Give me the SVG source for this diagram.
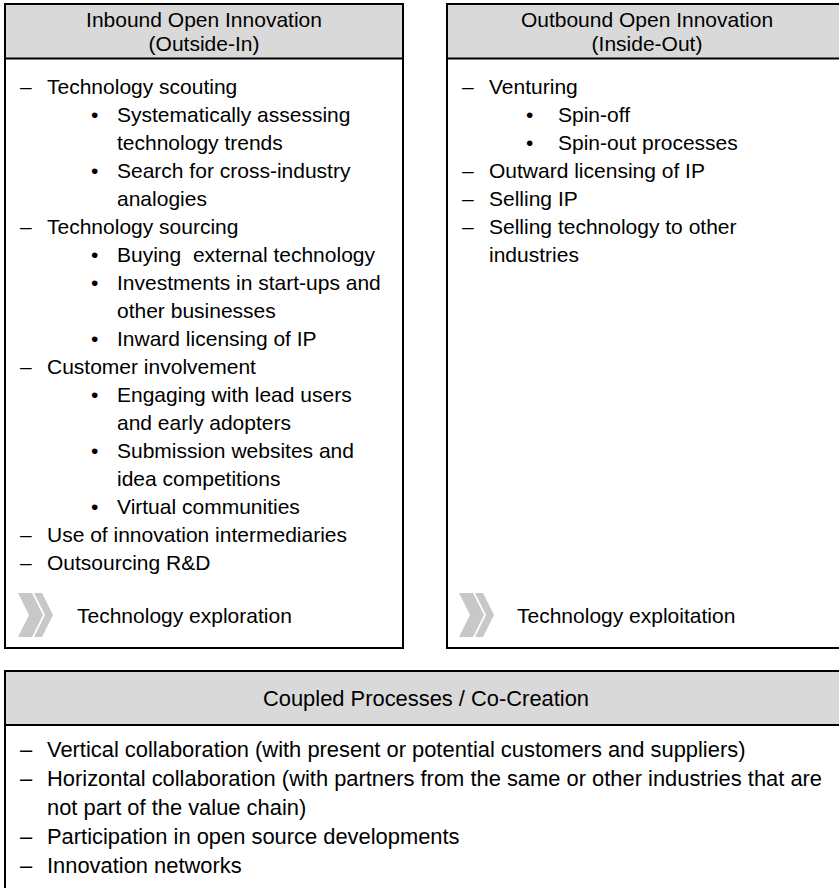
<svg xmlns="http://www.w3.org/2000/svg" width="839" height="888" viewBox="0 0 839 888">
<style>
  .box { fill: #ffffff; stroke: #000000; stroke-width: 2; }
  .hdr { fill: #d9d9d9; stroke: #000000; stroke-width: 2; }
  text { font-family: "Liberation Sans", Arial, sans-serif; font-size: 21px; fill: #000000; }
  .c { text-anchor: middle; }
  .bt { font-size: 21.9px; }
  .chev { fill: #c8c8c8; }
</style>
<defs>
  <g id="chevrons">
    <polygon class="chev" points="0,0 14,0 25,22 14,44 0,44 11,22"/>
    <polygon class="chev" points="16,0 24,0 35,22 24,44 16,44 27,22"/>
  </g>
</defs>
<rect width="839" height="888" fill="#ffffff"/>

<g id="inbound">
  <rect class="box" x="5" y="4" width="398" height="644"/>
  <rect class="hdr" x="5" y="4" width="398" height="54.5"/>
  <text class="c" x="204" y="27">Inbound Open Innovation</text>
  <text class="c" x="204" y="51">(Outside-In)</text>
  <text x="20" y="94">–</text><text x="47" y="94">Technology scouting</text>
  <text x="91" y="122">•</text><text x="117" y="122">Systematically assessing</text>
  <text x="117" y="150">technology trends</text>
  <text x="91" y="178">•</text><text x="117" y="178">Search for cross-industry</text>
  <text x="117" y="206">analogies</text>
  <text x="20" y="234">–</text><text x="47" y="234">Technology sourcing</text>
  <text x="91" y="262">•</text><text x="117" y="262" xml:space="preserve">Buying  external technology</text>
  <text x="91" y="290">•</text><text x="117" y="290">Investments in start-ups and</text>
  <text x="117" y="318">other businesses</text>
  <text x="91" y="346">•</text><text x="117" y="346">Inward licensing of IP</text>
  <text x="20" y="374">–</text><text x="47" y="374">Customer involvement</text>
  <text x="91" y="402">•</text><text x="117" y="402">Engaging with lead users</text>
  <text x="117" y="430">and early adopters</text>
  <text x="91" y="458">•</text><text x="117" y="458">Submission websites and</text>
  <text x="117" y="486">idea competitions</text>
  <text x="91" y="514">•</text><text x="117" y="514">Virtual communities</text>
  <text x="20" y="542">–</text><text x="47" y="542">Use of innovation intermediaries</text>
  <text x="20" y="570">–</text><text x="47" y="570">Outsourcing R&amp;D</text>
  <use href="#chevrons" x="18" y="593"/>
  <text x="77" y="623">Technology exploration</text>
</g>

<g id="outbound">
  <rect class="box" x="447" y="4" width="400" height="644"/>
  <rect class="hdr" x="447" y="4" width="400" height="54.5"/>
  <text class="c" x="647" y="27">Outbound Open Innovation</text>
  <text class="c" x="647" y="51">(Inside-Out)</text>
  <text x="462" y="94">–</text><text x="489" y="94">Venturing</text>
  <text x="526" y="122">•</text><text x="558" y="122">Spin-off</text>
  <text x="526" y="150">•</text><text x="558" y="150">Spin-out processes</text>
  <text x="462" y="178">–</text><text x="489" y="178">Outward licensing of IP</text>
  <text x="462" y="206">–</text><text x="489" y="206">Selling IP</text>
  <text x="462" y="234">–</text><text x="489" y="234">Selling technology to other</text>
  <text x="489" y="262">industries</text>
  <use href="#chevrons" x="459" y="593"/>
  <text x="517" y="623">Technology exploitation</text>
</g>

<g id="coupled">
  <rect class="box" x="5" y="671" width="842" height="300"/>
  <rect class="hdr" x="5" y="671" width="842" height="54"/>
  <text class="c bt" x="426" y="706">Coupled Processes / Co-Creation</text>
  <text class="bt" x="20" y="757">–</text><text class="bt" x="47" y="757">Vertical collaboration (with present or potential customers and suppliers)</text>
  <text class="bt" x="20" y="786">–</text><text class="bt" x="47" y="786">Horizontal collaboration (with partners from the same or other industries that are</text>
  <text class="bt" x="47" y="815">not part of the value chain)</text>
  <text class="bt" x="20" y="844">–</text><text class="bt" x="47" y="844">Participation in open source developments</text>
  <text class="bt" x="20" y="873">–</text><text class="bt" x="47" y="873">Innovation networks</text>
</g>

<g id="connectors"/>
</svg>
